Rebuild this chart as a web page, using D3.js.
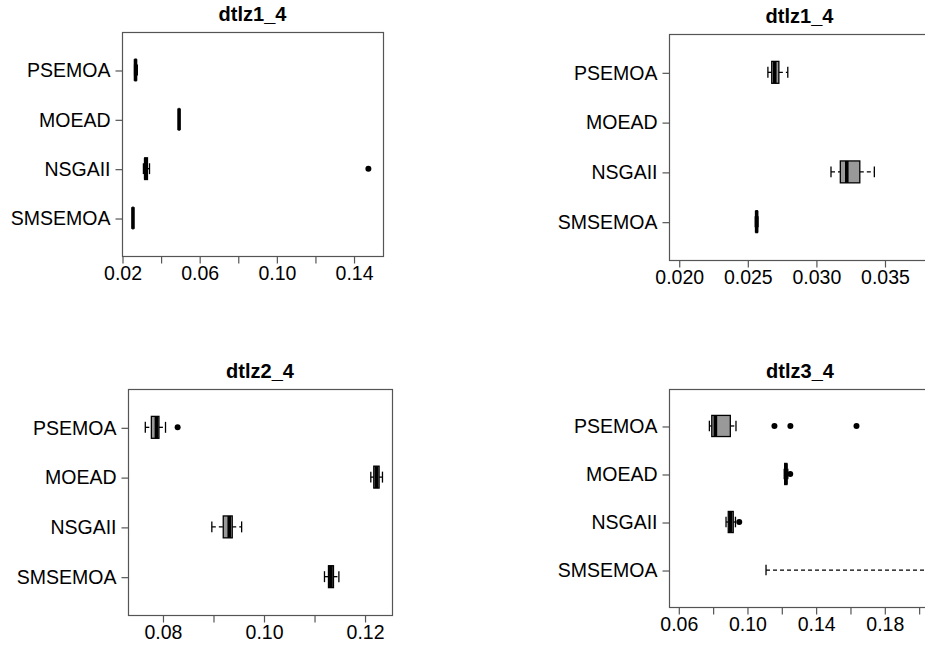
<!DOCTYPE html>
<html><head><meta charset="utf-8">
<script src="https://cdn.jsdelivr.net/npm/d3@7"></script>
<style>
body{margin:0;background:#fff}
svg{display:block}
text{font-family:"Liberation Sans",Arial,Helvetica,sans-serif}
</style>
</head><body>
<svg id="chart" width="925" height="646"></svg>
<script>
// ---- data (five-number summaries: [min whisker, Q1, median, Q3, max whisker]) ----
const algorithms = ["PSEMOA", "MOEAD", "NSGAII", "SMSEMOA"];

const dtlz1Stats = [
  [0.02650, 0.02678, 0.02700, 0.02730, 0.02795],
  [0.04950, 0.04954, 0.04958, 0.04962, 0.04966],
  [0.03110, 0.03178, 0.03225, 0.03320, 0.03426],
  [0.02558, 0.02563, 0.02568, 0.02573, 0.02578]
];
const dtlz1Outliers = [[], [], [0.1477], []];

const dtlz2Stats = [
  [0.0766, 0.0778, 0.0788, 0.0793, 0.0806],
  [0.12124, 0.12183, 0.12236, 0.12288, 0.12355],
  [0.08977, 0.09203, 0.09322, 0.09381, 0.09567],
  [0.11207, 0.11286, 0.11333, 0.11385, 0.11492]
];
const dtlz2Outliers = [[0.0830], [], [], []];

const dtlz3Stats = [
  [0.0781, 0.0795, 0.0816, 0.0903, 0.0936],
  [0.1217, 0.1220, 0.1227, 0.1232, 0.1238],
  [0.0878, 0.0891, 0.0904, 0.0920, 0.0933],
  [0.1111, 0.3200, 0.4000, 0.4800, 0.6200]
];
const dtlz3Outliers = [[0.1160, 0.1253, 0.1638], [0.1252], [0.0955], []];

const ticks1 = [0.02, 0.04, 0.06, 0.08, 0.10, 0.12, 0.14];
const labels1 = ["0.02", "", "0.06", "", "0.10", "", "0.14"];
const ticks2 = [0.020, 0.025, 0.030, 0.035];
const labels2 = ["0.020", "0.025", "0.030", "0.035"];
const ticks3 = [0.08, 0.09, 0.10, 0.11, 0.12];
const labels3 = ["0.08", "", "0.10", "", "0.12"];
const ticks4 = [0.06, 0.08, 0.10, 0.12, 0.14, 0.16, 0.18, 0.20];
const labels4 = ["0.06", "", "0.10", "", "0.14", "", "0.18", ""];

const titles = ["dtlz1_4", "dtlz1_4", "dtlz2_4", "dtlz3_4"];
const xLimits = [[0.02, 0.15527], [0.019291, 0.038317], [0.073175, 0.125436], [0.054583, 0.2072]];

// ---- layout ----
const frames = [
  {l: 122, r: 383, t: 32, b: 256},
  {l: 669, r: 930, t: 34, b: 260},
  {l: 128, r: 392, t: 389, b: 615},
  {l: 669, r: 931, t: 389, b: 607}
];

const panels = [
  {title: titles[0], stats: dtlz1Stats, outliers: dtlz1Outliers, domain: xLimits[0], ticks: ticks1, labels: labels1, f: frames[0]},
  {title: titles[1], stats: dtlz1Stats, outliers: dtlz1Outliers, domain: xLimits[1], ticks: ticks2, labels: labels2, f: frames[1]},
  {title: titles[2], stats: dtlz2Stats, outliers: dtlz2Outliers, domain: xLimits[2], ticks: ticks3, labels: labels3, f: frames[2]},
  {title: titles[3], stats: dtlz3Stats, outliers: dtlz3Outliers, domain: xLimits[3], ticks: ticks4, labels: labels4, f: frames[3]}
];

const svg = d3.select("#chart");
const FS = "19.5px";
const frameColor = "#555";

panels.forEach((p, pi) => {
  const f = p.f;
  const x = d3.scaleLinear().domain(p.domain).range([f.l, f.r]);
  const y = d3.scalePoint().domain(algorithms).range([f.t, f.b]).padding(0.77);
  const bw = y.step() * 0.44;

  const clipId = "clip" + pi;
  svg.append("clipPath").attr("id", clipId)
    .append("rect").attr("x", f.l).attr("y", f.t).attr("width", f.r - f.l).attr("height", f.b - f.t);

  const g = svg.append("g").attr("clip-path", `url(#${clipId})`);

  algorithms.forEach((a, i) => {
    const s = p.stats[i];
    const cy = y(a);
    // whiskers (dashed)
    g.append("line").attr("x1", x(s[0])).attr("x2", x(s[1])).attr("y1", cy).attr("y2", cy)
      .attr("stroke", "#000").attr("stroke-width", 1.3).attr("stroke-dasharray", "4,3");
    g.append("line").attr("x1", x(s[3])).attr("x2", x(s[4])).attr("y1", cy).attr("y2", cy)
      .attr("stroke", "#000").attr("stroke-width", 1.3).attr("stroke-dasharray", "4,3");
    // staples
    [s[0], s[4]].forEach(v => {
      g.append("line").attr("x1", x(v)).attr("x2", x(v)).attr("y1", cy - bw / 4).attr("y2", cy + bw / 4)
        .attr("stroke", "#000").attr("stroke-width", 1.3);
    });
    // box
    g.append("rect").attr("x", x(s[1])).attr("y", cy - bw / 2)
      .attr("width", Math.max(0, x(s[3]) - x(s[1]))).attr("height", bw)
      .attr("fill", "#999").attr("stroke", "#000").attr("stroke-width", 1.3);
    // median
    g.append("line").attr("x1", x(s[2])).attr("x2", x(s[2])).attr("y1", cy - bw / 2).attr("y2", cy + bw / 2)
      .attr("stroke", "#000").attr("stroke-width", 3.6);
    // outliers
    p.outliers[i].forEach(v => {
      g.append("circle").attr("cx", x(v)).attr("cy", cy).attr("r", 3).attr("fill", "#000");
    });
  });

  // frame
  svg.append("rect").attr("x", f.l + 0.5).attr("y", f.t + 0.5)
    .attr("width", f.r - f.l).attr("height", f.b - f.t)
    .attr("fill", "none").attr("stroke", frameColor).attr("stroke-width", 1.2);

  // x axis
  const xa = svg.append("g").attr("transform", `translate(0.5,${f.b + 0.5})`)
    .call(d3.axisBottom(x).tickValues(p.ticks).tickFormat((d, i) => p.labels[i]).tickSize(7).tickPadding(3));
  xa.select(".domain").remove();
  xa.selectAll(".tick line").attr("stroke", frameColor).attr("stroke-width", 1.2);
  xa.selectAll(".tick text").attr("font-size", FS).attr("font-family", '"Liberation Sans",Arial,sans-serif').attr("fill", "#000");

  // y axis
  const ya = svg.append("g").attr("transform", `translate(${f.l + 0.5},0.5)`)
    .call(d3.axisLeft(y).tickSize(7).tickPadding(5));
  ya.select(".domain").remove();
  ya.selectAll(".tick line").attr("stroke", frameColor).attr("stroke-width", 1.2);
  ya.selectAll(".tick text").attr("font-size", FS).attr("font-family", '"Liberation Sans",Arial,sans-serif').attr("fill", "#000");

  // title
  svg.append("text").attr("x", (f.l + f.r) / 2).attr("y", f.t - 11)
    .attr("text-anchor", "middle").attr("font-weight", "bold").attr("font-size", "20px")
    .attr("fill", "#000").text(p.title);
});
</script>
</body></html>
